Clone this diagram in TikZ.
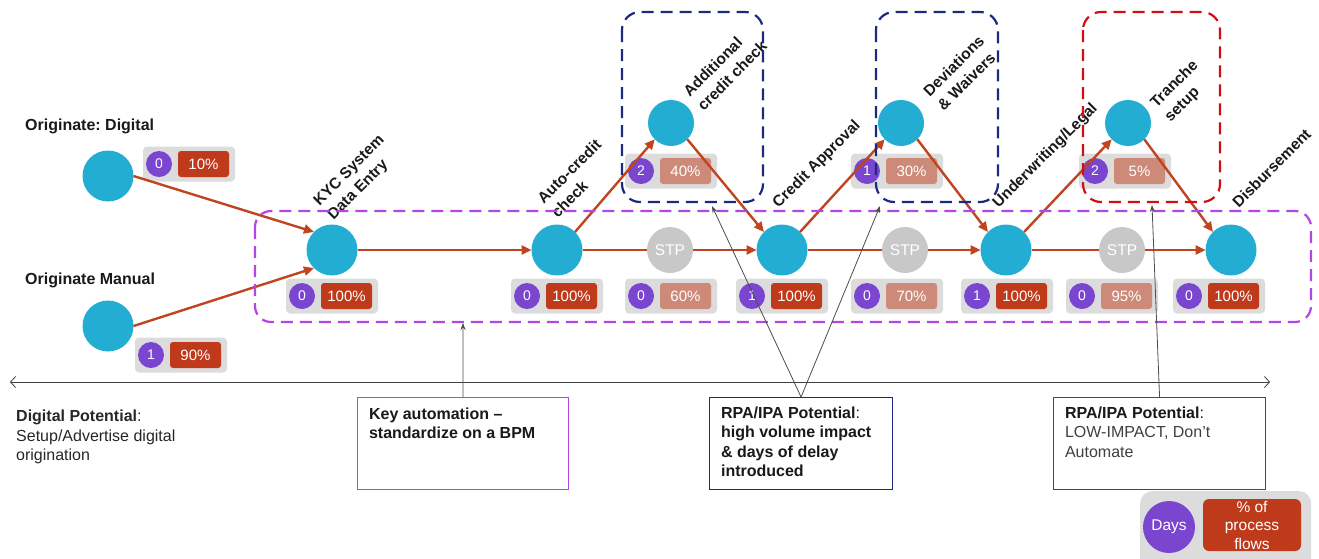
\documentclass[tikz,border=0pt]{standalone}
\usepackage{fontspec}
\setmainfont{Liberation Sans}
\usetikzlibrary{arrows.meta}
\frenchspacing
\definecolor{nodeblue}{HTML}{24ADD3}
\definecolor{daypurple}{HTML}{7A45CF}
\definecolor{pctred}{HTML}{BF3A1B}
\definecolor{pctsalmon}{HTML}{CD8A78}
\definecolor{badgegray}{HTML}{DCDCDC}
\definecolor{stpgray}{HTML}{C8C8C8}
\definecolor{flowred}{HTML}{C0441F}
\definecolor{boxpurple}{HTML}{B446E6}
\definecolor{boxnavy}{HTML}{1B2A7E}
\definecolor{boxred}{HTML}{CC1015}
\newcommand{\stepbadge}[6]{%
  \node[badgebg] (#1) at ({#2+30},{#3}) {};
  \node[daycirc] (#1-d) at ({#2},{#3}) {#4};
  \node[pctbox,fill=#6] (#1-p) at ({#2+44.5},{#3}) {#5};
}
\begin{document}
\begin{tikzpicture}[x=1pt,y=-1pt,
  font=\fontsize{16}{19.5}\selectfont,
  stepnode/.style={circle,fill=nodeblue,minimum size=51pt,inner sep=0pt,outer sep=0pt},
  topnode/.style={stepnode,minimum size=46pt},
  stpnode/.style={circle,fill=stpgray,minimum size=46pt,inner sep=0pt,outer sep=0pt,text=white,font=\fontsize{15.5}{18}\selectfont},
  badgebg/.style={rectangle,rounded corners=4pt,fill=badgegray,minimum width=92pt,minimum height=35pt,inner sep=0pt},
  daycirc/.style={circle,fill=daypurple,minimum size=26pt,inner sep=0pt,text=white,font=\fontsize{14}{16}\selectfont},
  pctbox/.style={rectangle,rounded corners=3pt,minimum width=51pt,minimum height=26pt,inner sep=0pt,text=white,font=\fontsize{15}{17}\selectfont},
  steplabel/.style={rotate=45,anchor=south west,inner sep=0pt,align=left,font=\bfseries\fontsize{15.5}{20}\selectfont,text=black!90},
  originlabel/.style={anchor=west,inner sep=0pt,font=\bfseries\fontsize{16}{19}\selectfont,text=black!90},
  flow/.style={draw=flowred,line width=2.4pt,-{Triangle[length=10pt,width=9pt]}},
  flowplain/.style={draw=flowred,line width=2.4pt},
  zonebox/.style={dash pattern=on 12pt off 7pt,line width=2.2pt,rounded corners=18pt},
  callout/.style={draw=black!70,line width=0.8pt,-{Stealth[length=7pt,width=5pt]}},
  notebox/.style={draw,line width=1.1pt,anchor=north west,inner xsep=11.5pt,inner ysep=0pt,fill=white,text=black!90}
]
\useasboundingbox (0,0) rectangle (1319,558);

% badges
\stepbadge{bdig}{159}{164}{0}{10\%}{pctred}
\stepbadge{bman}{151}{355}{1}{90\%}{pctred}
\stepbadge{bkyc}{302}{296}{0}{100\%}{pctred}
\stepbadge{bauto}{527}{296}{0}{100\%}{pctred}
\stepbadge{bstpa}{641}{296}{0}{60\%}{pctsalmon}
\stepbadge{bca}{752}{296}{1}{100\%}{pctred}
\stepbadge{bstpb}{867}{296}{0}{70\%}{pctsalmon}
\stepbadge{buw}{977}{296}{1}{100\%}{pctred}
\stepbadge{bstpc}{1082}{296}{0}{95\%}{pctsalmon}
\stepbadge{bdisb}{1189}{296}{0}{100\%}{pctred}
\stepbadge{badd}{641}{171}{2}{40\%}{pctsalmon}
\stepbadge{bdev}{867}{171}{1}{30\%}{pctsalmon}
\stepbadge{btr}{1095}{171}{2}{5\%}{pctsalmon}

% process nodes
\node[stepnode] (dig) at (108,176) {};
\node[stepnode] (man) at (108,326) {};
\node[stepnode] (kyc) at (332,250) {};
\node[stepnode] (auto) at (557,250) {};
\node[topnode] (add) at (671,123) {};
\node[stepnode] (ca) at (782,250) {};
\node[topnode] (dev) at (901,123) {};
\node[stepnode] (uw) at (1006,250) {};
\node[topnode] (tr) at (1128,123) {};
\node[stepnode] (disb) at (1231,250) {};
\node[stpnode] (stpa) at (670,250) {STP};
\node[stpnode] (stpb) at (905,250) {STP};
\node[stpnode] (stpc) at (1122,250) {STP};

% labels
\node[originlabel] (ldig) at (25,126) {Originate: Digital};
\node[originlabel] (lman) at (25,280) {Originate Manual};
\node[steplabel] (lkyc) at (336,223) {KYC System\\Data Entry};
\node[steplabel] (lauto) at (558,219) {Auto-credit\\check};
\node[steplabel] (ladd) at (704,112) {Additional\\credit check};
\node[steplabel] (lca) at (781,211) {Credit Approval};
\node[steplabel] (ldev) at (944,112) {Deviations\\\& Waivers};
\node[steplabel] (luw) at (1001,211) {Underwriting/Legal};
\node[steplabel] (ltr) at (1173,125) {Tranche\\setup};
\node[steplabel] (ldisb) at (1239,209) {Disbursement};

% flows
\draw[flow] (dig.east) -- (kyc.135);
\draw[flow] (man.east) -- (kyc.225);
\draw[flow] (kyc) -- (auto);
\draw[flow] (auto.45) -- (add.225);
\draw[flow] (add.-45) -- (ca.135);
\draw[flowplain] (auto) -- (stpa);
\draw[flow] (stpa) -- (ca);
\draw[flow] (ca.45) -- (dev.225);
\draw[flow] (dev.-45) -- (uw.135);
\draw[flowplain] (ca) -- (stpb);
\draw[flow] (stpb) -- (uw);
\draw[flow] (uw.45) -- (tr.225);
\draw[flow] (tr.-45) -- (disb.135);
\draw[flowplain] (uw) -- (stpc);
\draw[flow] (stpc) -- (disb);

% zones
\draw[zonebox,draw=boxpurple,rounded corners=16pt] (255,211) rectangle (1311,322);
\draw[zonebox,draw=boxnavy] (622,12) rectangle (763,202);
\draw[zonebox,draw=boxnavy] (876,12) rectangle (998,202);
\draw[zonebox,draw=boxred] (1083,12) rectangle (1220,202);

% timeline
\coordinate (hl) at (10,382);
\coordinate (hr) at (1270,382);
\draw[{Straight Barb[length=5pt,width=11pt]}-{Straight Barb[length=5pt,width=11pt]},line width=0.8pt,draw=black!75] (hl) -- (hr);

% notes
\node[anchor=north west,inner sep=0pt,align=left,text=black!85] (dp) at (16,410) {\textbf{Digital Potential}:\\Setup/Advertise digital\\origination};
\node[notebox,draw=boxpurple] (keyb) at (357,397) {\parbox[t][92pt][t]{188pt}{\vspace*{10pt}\textbf{Key automation –}\\\textbf{standardize on a BPM}}};
\node[notebox,draw=boxnavy] (rpaa) at (709,397) {\parbox[t][92pt][t]{160pt}{\vspace*{9pt}\textbf{RPA/IPA Potential}:\\\textbf{high volume impact}\\\textbf{\& days of delay}\\\textbf{introduced}}};
\node[notebox,draw=boxred] (rpab) at (1053,397) {\parbox[t][92pt][t]{189pt}{\vspace*{9pt}\textbf{RPA/IPA Potential}:\\{\color{black!75}LOW-IMPACT, Don’t}\\{\color{black!75}Automate}}};

% callouts
\coordinate (ck) at (463,323);
\coordinate (ca1) at (712,206);
\coordinate (ca2) at (880,206);
\coordinate (cb) at (1152,205);
\draw[callout] (keyb.north) -- (ck);
\draw[callout] (rpaa.north) -- (ca1);
\draw[callout] (rpaa.north) -- (ca2);
\draw[callout] (rpab.north) -- (cb);

% legend
\node[rectangle,rounded corners=12pt,fill=badgegray,minimum width=171pt,minimum height=80pt,anchor=north west,inner sep=0pt] (leg) at (1140,491) {};
\node[circle,fill=daypurple,minimum size=52pt,inner sep=0pt,text=white,font=\fontsize{15.5}{18}\selectfont] (legd) at (1169,527) {Days};
\node[rectangle,rounded corners=6pt,fill=pctred,minimum width=98pt,minimum height=52pt,inner sep=0pt,align=center,text=white,font=\fontsize{15.5}{18.5}\selectfont] (legp) at (1252,525) {\% of\\process\\flows};
\end{tikzpicture}
\end{document}
